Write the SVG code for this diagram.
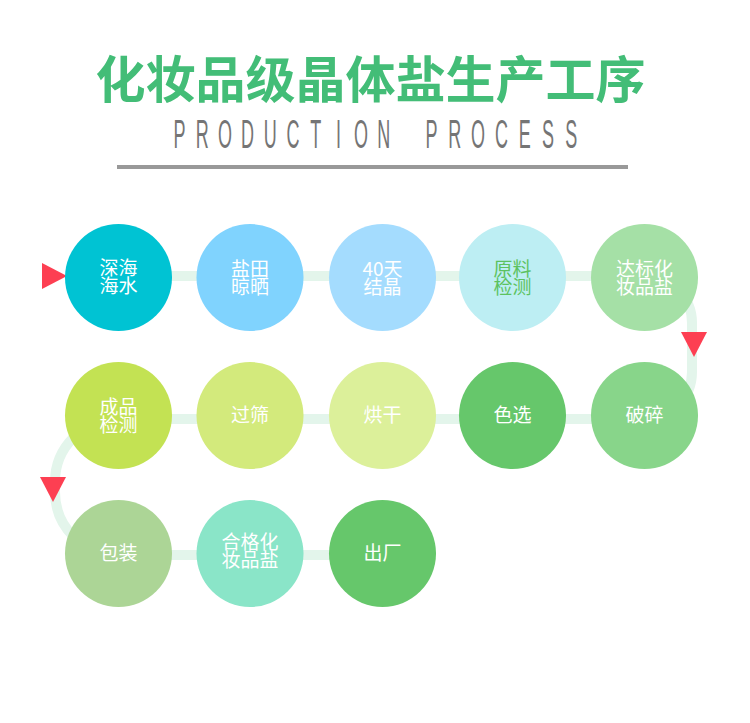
<svg xmlns="http://www.w3.org/2000/svg" width="750" height="723" viewBox="0 0 750 723">
<style>
.t{font-family:"Noto Sans CJK SC","Noto Sans",sans-serif;font-size:19px;fill:#ffffff;text-anchor:middle}
.band{fill:none;stroke:#e3f5eb;stroke-width:10}
.arr{fill:#fd3f52}
</style>
<rect width="750" height="723" fill="#ffffff"/>
<g id="title">
<text x="370.5" y="98" font-family="Noto Sans CJK SC, sans-serif" font-size="50" font-weight="bold" fill="#43bd77" text-anchor="middle">化妆品级晶体盐生产工序</text>
<g transform="translate(0,148) scale(0.45,1)">
<text y="0" font-family="Liberation Sans, Arial, sans-serif" font-size="40" fill="#757575" text-anchor="middle" x="398.9 449.3 499.8 550.2 600.7 651.1 701.6 752.0 802.4 852.9 958.9 1010.7 1062.4 1114.2 1166.0 1217.8 1269.6">PRODUCTIONPROCESS</text>
</g>
<rect x="117" y="165" width="511" height="4" fill="#999999"/>
</g>
<g id="connectors">
<path class="band" d="M118 276 H645 A47 47 0 0 1 692 323 V372 A47 47 0 0 1 645 419 H118 A63 63 0 0 0 55 482 V492 A63 63 0 0 0 118 555 H382"/>
<polygon class="arr" points="42,263 67,276 42,289"/>
<polygon class="arr" points="681,332 707,332 694,357"/>
<polygon class="arr" points="40,477 66,477 53,502"/>
</g>
<g id="n1"><circle cx="118.5" cy="277.5" r="53.5" fill="#00c3d3"/><text class="t"><tspan x="118.5" y="274.5">深海</tspan><tspan x="118.5" y="293">海水</tspan></text></g>
<g id="n2"><circle cx="250" cy="277.5" r="53.5" fill="#80d3fe"/><text class="t"><tspan x="250" y="276">盐田</tspan><tspan x="250" y="294">晾晒</tspan></text></g>
<g id="n3"><circle cx="382.5" cy="277.5" r="53.5" fill="#a4dcfe"/><text class="t"><tspan x="382.5" y="276">40天</tspan><tspan x="382.5" y="294">结晶</tspan></text></g>
<g id="n4"><circle cx="512.5" cy="277.5" r="53.5" fill="#bdeef3"/><text class="t" style="fill:#5cc25f"><tspan x="512.5" y="276">原料</tspan><tspan x="512.5" y="294">检测</tspan></text></g>
<g id="n5"><circle cx="644.5" cy="277.5" r="53.5" fill="#a5e0a6"/><text class="t"><tspan x="644.5" y="276">达标化</tspan><tspan x="644.5" y="294">妆品盐</tspan></text></g>
<g id="n6"><circle cx="118.5" cy="415.5" r="53.5" fill="#c3e253"/><text class="t"><tspan x="118.5" y="414">成品</tspan><tspan x="118.5" y="432">检测</tspan></text></g>
<g id="n7"><circle cx="250" cy="415.5" r="53.5" fill="#d3ea7c"/><text class="t" x="250" y="422">过筛</text></g>
<g id="n8"><circle cx="382.5" cy="415.5" r="53.5" fill="#dcf09a"/><text class="t" x="382.5" y="422">烘干</text></g>
<g id="n9"><circle cx="512.5" cy="415.5" r="53.5" fill="#66c76b"/><text class="t" x="512.5" y="422">色选</text></g>
<g id="n10"><circle cx="644.5" cy="415.5" r="53.5" fill="#88d58a"/><text class="t" x="644.5" y="422">破碎</text></g>
<g id="n11"><circle cx="118.5" cy="553.5" r="53.5" fill="#acd596"/><text class="t" x="118.5" y="560">包装</text></g>
<g id="n12"><circle cx="250" cy="553.5" r="53.5" fill="#8ae5c8"/><text class="t"><tspan x="250" y="548.5">合格化</tspan><tspan x="250" y="567">妆品盐</tspan></text></g>
<g id="n13"><circle cx="382.5" cy="553.5" r="53.5" fill="#66c76b"/><text class="t" x="382.5" y="560">出厂</text></g>
</svg>
